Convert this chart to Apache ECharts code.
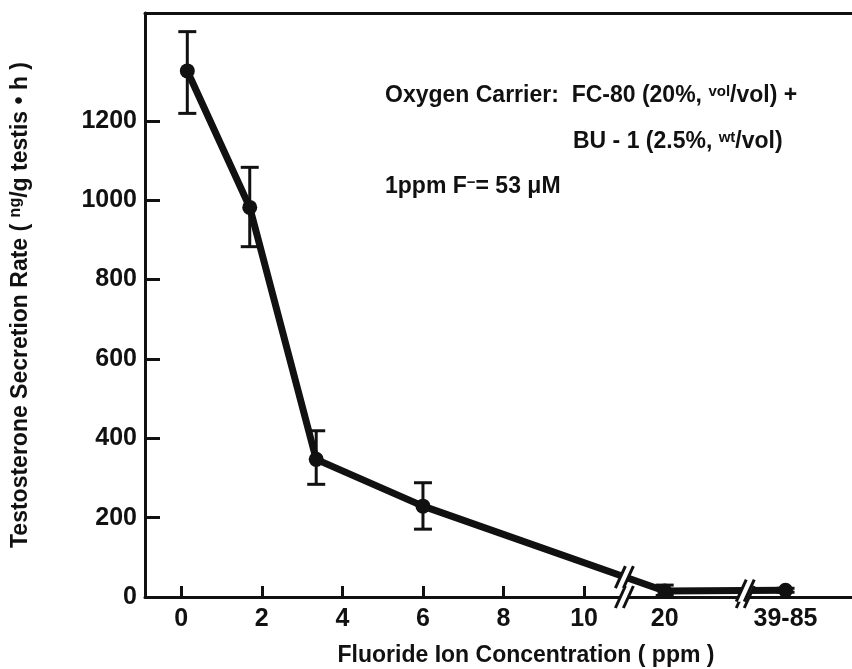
<!DOCTYPE html>
<html>
<head>
<meta charset="utf-8">
<script src="https://cdn.jsdelivr.net/npm/echarts@6/dist/echarts.min.js"></script>
<style>
  html, body { margin: 0; padding: 0; background: #fff; }
  #chart { width: 852px; height: 669px; }
</style>
</head>
<body>
<div id="chart"></div>
<script>
// positions on the broken x axis (20 ppm and 39-85 ppm sit after the breaks)
const concPos = [0.15, 1.7, 3.35, 6.0, 12, 15]
const rate = [1326, 982, 347, 229, 15, 17]
const errLow = [1219, 883, 284, 171, 4, 12]
const errHigh = [1425, 1083, 419, 288, 30, 22]

const xTickPos = [0, 2, 4, 6, 8, 10, 12, 15]
const xTickText = ['0', '2', '4', '6', '8', '10', '20', '39-85']
const xMinorTicks = [0, 2, 4, 6, 8, 10]
const yTicks = [0, 200, 400, 600, 800, 1000, 1200]

// axis-break marks "//" : [x, y]
const breakMarks = [[11, 0], [14, 0], [11, 50], [14, 16]]

const font = 'Liberation Sans'
const ink = '#111'

const chart = echarts.init(document.getElementById('chart'))

const supStyle = { font: 'bold 15px "Liberation Sans"', fill: ink, verticalAlign: 'top', padding: [0, 0, 9, 0] }

const option = {
  animation: false,
  backgroundColor: '#fff',
  grid: { left: 145, right: 0, top: 13, bottom: 72, containLabel: false, outerBoundsMode: 'none' },
  xAxis: [
    {
      type: 'value',
      min: -0.9,
      max: 16.65,
      name: 'Fluoride Ion Concentration ( ppm )',
      nameLocation: 'middle',
      nameGap: 47,
      nameTextStyle: {
        fontFamily: font, fontWeight: 'bold', fontSize: 23, color: ink,
        padding: [0, 0, 0, 55]
      },
      axisLine: { onZero: false, lineStyle: { color: ink, width: 3 } },
      axisTick: { inside: true, length: 11, customValues: xMinorTicks, lineStyle: { color: ink, width: 3 } },
      axisLabel: {
        customValues: xTickPos,
        margin: 10,
        fontFamily: font, fontWeight: 'bold', fontSize: 25, color: ink,
        formatter: v => xTickText[xTickPos.indexOf(v)]
      },
      splitLine: { show: false }
    },
    {
      type: 'value',
      position: 'top',
      min: -0.9,
      max: 16.65,
      axisLine: { show: true, onZero: false, lineStyle: { color: ink, width: 3 } },
      axisTick: { show: false },
      axisLabel: { show: false },
      splitLine: { show: false }
    }
  ],
  yAxis: {
    type: 'value',
    min: 0,
    max: 1472,
    name: 'Testosterone Secretion Rate ( {sup|ng}/g testis \u2022 h )',
    nameLocation: 'middle',
    nameGap: 112,
    nameTextStyle: {
      fontFamily: font, fontWeight: 'bold', fontSize: 23, color: ink,
      rich: {
        sup: { fontFamily: font, fontWeight: 'bold', fontSize: 16, color: ink, verticalAlign: 'top', padding: [0, 0, 9, 0] }
      }
    },
    axisLine: { show: true, onZero: false, lineStyle: { color: ink, width: 3 } },
    axisTick: { inside: true, length: 15, customValues: yTicks, lineStyle: { color: ink, width: 3 } },
    axisLabel: {
      customValues: yTicks,
      margin: 8,
      fontFamily: font, fontWeight: 'bold', fontSize: 25, color: ink,
      formatter: v => String(v)
    },
    splitLine: { show: false }
  },
  series: [
    {
      type: 'line',
      data: concPos.map((x, i) => [x, rate[i]]),
      symbol: 'circle',
      symbolSize: 15,
      lineStyle: { color: ink, width: 7 },
      itemStyle: { color: ink },
      z: 3
    },
    {
      type: 'custom',
      data: concPos.map((x, i) => [x, errLow[i], errHigh[i]]),
      renderItem: (params, api) => {
        const x = api.value(0)
        const lo = api.coord([x, api.value(1)])
        const hi = api.coord([x, api.value(2)])
        const w = 9
        const st = { stroke: ink, lineWidth: 3 }
        return {
          type: 'group',
          children: [
            { type: 'line', shape: { x1: lo[0], y1: lo[1], x2: hi[0], y2: hi[1] }, style: st },
            { type: 'line', shape: { x1: lo[0] - w, y1: lo[1], x2: lo[0] + w, y2: lo[1] }, style: st },
            { type: 'line', shape: { x1: hi[0] - w, y1: hi[1], x2: hi[0] + w, y2: hi[1] }, style: st }
          ]
        }
      },
      z: 4
    },
    {
      type: 'custom',
      data: breakMarks,
      clip: false,
      renderItem: (params, api) => {
        const p = api.coord([api.value(0), api.value(1)])
        const dx = 5, dy = 11, off = 4
        const st = { stroke: ink, lineWidth: 3 }
        return {
          type: 'group',
          children: [
            {
              type: 'polygon',
              shape: { points: [
                [p[0] - off - dx, p[1] + dy], [p[0] - off + dx, p[1] - dy],
                [p[0] + off + dx, p[1] - dy], [p[0] + off - dx, p[1] + dy]
              ] },
              style: { fill: '#fff' }
            },
            { type: 'line', shape: { x1: p[0] - off - dx, y1: p[1] + dy, x2: p[0] - off + dx, y2: p[1] - dy }, style: st },
            { type: 'line', shape: { x1: p[0] + off - dx, y1: p[1] + dy, x2: p[0] + off + dx, y2: p[1] - dy }, style: st }
          ]
        }
      },
      z: 10
    }
  ],
  graphic: [
    {
      type: 'text', left: 385, top: 84,
      style: {
        text: 'Oxygen Carrier:  FC-80 (20%, {sup|vol}/vol) +',
        font: 'bold 23px "Liberation Sans"', fill: ink,
        rich: { sup: supStyle }
      }
    },
    {
      type: 'text', left: 573, top: 130,
      style: {
        text: 'BU - 1 (2.5%, {sup|wt}/vol)',
        font: 'bold 23px "Liberation Sans"', fill: ink,
        rich: { sup: supStyle }
      }
    },
    {
      type: 'text', left: 385, top: 175,
      style: {
        text: '1ppm F{sup|\u2212}= 53 \u03bcM',
        font: 'bold 23px "Liberation Sans"', fill: ink,
        rich: { sup: supStyle }
      }
    }
  ]
}

chart.setOption(option)
</script>
</body>
</html>
